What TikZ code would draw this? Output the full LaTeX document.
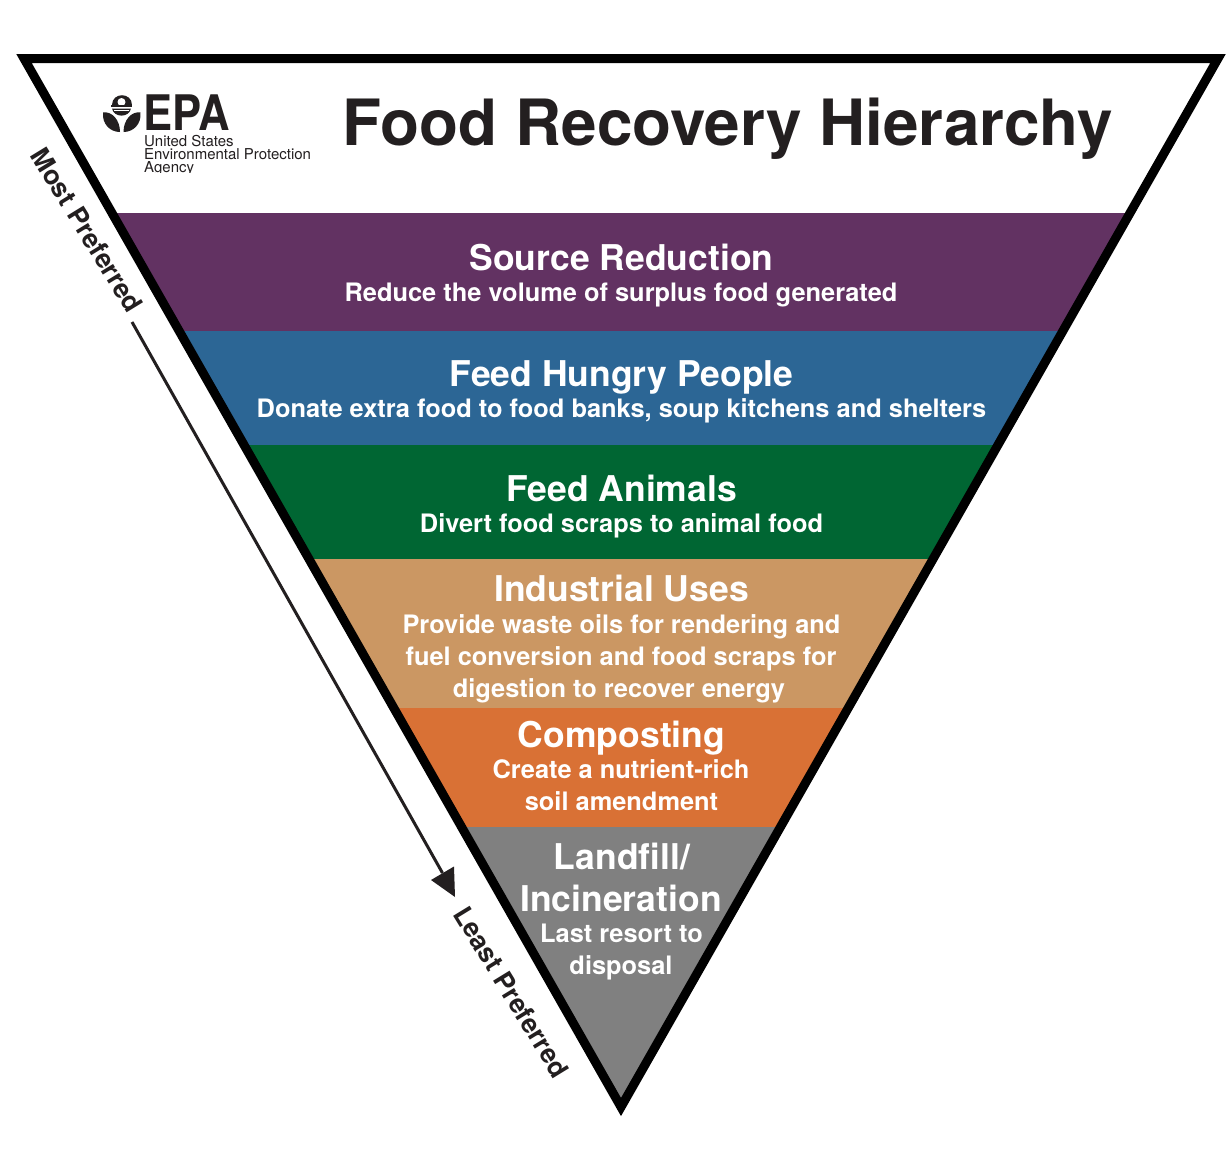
\documentclass[tikz,border=0pt]{standalone}
\usepackage{fontspec}
\setmainfont{TeX Gyre Heros}
\definecolor{ink}{HTML}{231F20}
\definecolor{cpurple}{HTML}{623262}
\definecolor{cblue}{HTML}{2C6695}
\definecolor{cgreen}{HTML}{006633}
\definecolor{ctan}{HTML}{CB9763}
\definecolor{corange}{HTML}{D97135}
\definecolor{cgrey}{HTML}{808080}
\tikzset{
  head/.style={font=\fontsize{35.5}{36}\selectfont\bfseries,text=white,inner sep=0pt,anchor=base},
  sub/.style={font=\fontsize{25.4}{26}\selectfont\bfseries,text=white,inner sep=0pt,anchor=base},
  side/.style={font=\fontsize{26.5}{27}\selectfont\bfseries,text=ink,inner sep=0pt,rotate=-58.5},
  org/.style={font=\fontsize{15}{15}\selectfont,text=ink,inner sep=0pt,anchor=base west},
}
\begin{document}
\begin{tikzpicture}[x=1pt,y=-1pt]
\useasboundingbox (0,0) rectangle (1227,1165);
\fill[white] (0,0) rectangle (1227,1165);
\begin{scope}
  \clip (24,58.5) -- (1218,58.5) -- (621,1107) -- cycle;
  \fill[cpurple] (0,213) rectangle (1227,331);
  \fill[cblue]   (0,331) rectangle (1227,445);
  \fill[cgreen]  (0,445) rectangle (1227,559);
  \fill[ctan]    (0,559) rectangle (1227,708);
  \fill[corange] (0,708) rectangle (1227,827);
  \fill[cgrey]   (0,827) rectangle (1227,1120);
\end{scope}
\draw[black,line width=9pt,miter limit=10] (24,58.5) -- (1218,58.5) -- (621,1107) -- cycle;
% logo
\fill[ink] (111.5,105) .. controls (111.5,91.5) and (131.5,91.5) .. (131.5,105) -- cycle;
\fill[white] (121.5,102) circle[radius=4];
\fill[ink] (111,104.5) rectangle (132,107);
\fill[ink] (112,108.5) .. controls (114,118) and (129,118) .. (131,108.5) -- cycle;
\draw[white,line width=0.9pt] (114,110.5) .. controls (117,109) and (118,112) .. (121.5,110.5) .. controls (125,109) and (126,112) .. (129,110.5);
\fill[ink] (103,112.5) .. controls (112,111) and (120,120) .. (120,132) .. controls (110,132) and (102,124) .. (103,112.5) -- cycle;
\fill[ink] (140.5,112.5) .. controls (131.5,111) and (123.5,120) .. (123.5,132) .. controls (133.5,132) and (141.5,124) .. (140.5,112.5) -- cycle;
\node[inner sep=0pt,anchor=base west,text=ink,font=\fontsize{49}{49}\selectfont\bfseries,xscale=0.89] (epa) at (143,130) {EPA};
\node[org] (org1) at (144,146) {United States};
\node[org] (org2) at (144,159) {Environmental Protection};
\begin{scope}
  \clip (140,161) rectangle (320,172.5);
  \node[org] (org3) at (144,172) {Agency};
\end{scope}
% title
\node[inner sep=0pt,anchor=base,text=ink,font=\fontsize{63.8}{64}\selectfont\bfseries] (title) at (728,145) {Food Recovery Hierarchy};
% bands
\node[head] (h1) at (621.5,270) {Source Reduction};
\node[sub]  (s1) at (621,301) {Reduce the volume of surplus food generated};
\node[head] (h2) at (621.5,386) {Feed Hungry People};
\node[sub]  (s2) at (621.5,417) {Donate extra food to food banks, soup kitchens and shelters};
\node[head] (h3) at (621.5,501) {Feed Animals};
\node[sub]  (s3) at (621.5,532) {Divert food scraps to animal food};
\node[head] (h4) at (621.5,601.5) {Industrial Uses};
\node[sub]  (s4a) at (621.5,633) {Provide waste oils for rendering and};
\node[sub]  (s4b) at (621,665) {fuel conversion and food scraps for};
\node[sub]  (s4c) at (619,697) {digestion to recover energy};
\node[head] (h5) at (621.5,747) {Composting};
\node[sub]  (s5a) at (621,778) {Create a nutrient-rich};
\node[sub]  (s5b) at (621.5,810) {soil amendment};
\node[head] (h6a) at (622,869) {Landfill/};
\node[head] (h6b) at (621,911) {Incineration};
\node[sub]  (s6a) at (621.5,942) {Last resort to};
\node[sub]  (s6b) at (621,974) {disposal};
% side labels
\node[side] (most) at (87,230) {Most Preferred};
\node[side] (least) at (511.5,992) {Least Preferred};
\coordinate (astart) at (132,322);
\coordinate (aend) at (455,897);
\coordinate (abase) at (442.5,873);
\draw[ink,line width=3pt] (astart) -- (abase);
\fill[ink] (aend) -- (431,880) -- (454,866.5) -- cycle;
\end{tikzpicture}
\end{document}
